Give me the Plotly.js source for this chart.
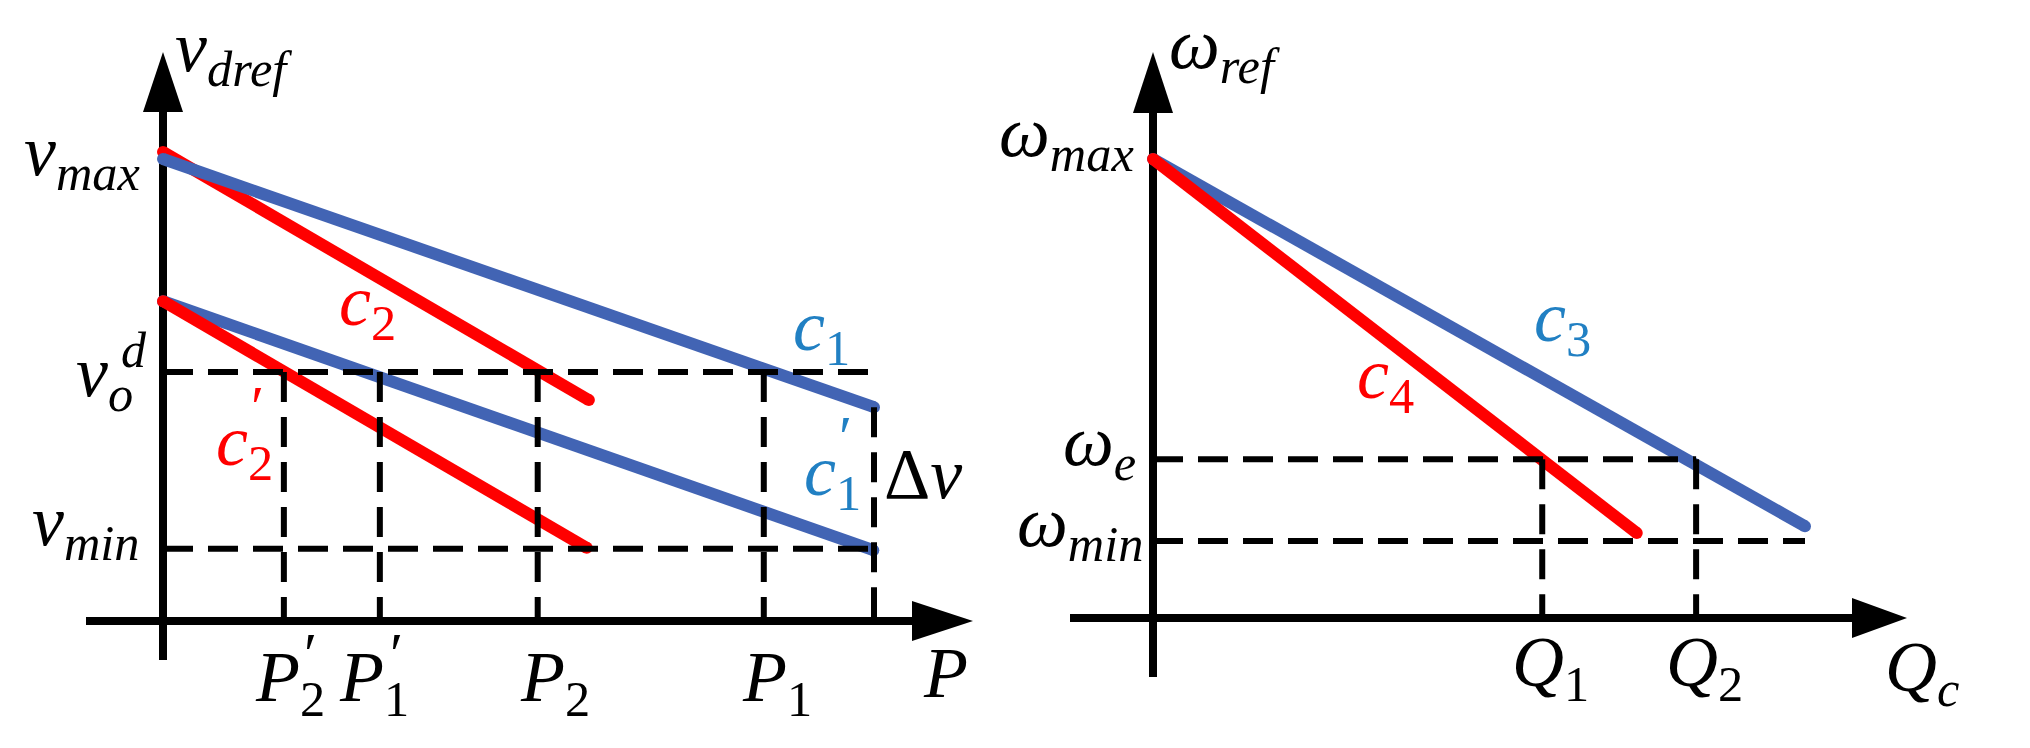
<!DOCTYPE html>
<html><head><meta charset="utf-8">
<script src="https://cdn.plot.ly/plotly-3.0.1.min.js"></script>
<style>html,body{margin:0;padding:0;background:#fff;overflow:hidden}</style>
</head><body><div id="chart" style="width:2030px;height:748px"></div>
<script>
// ================= DATA =================
// Left diagram: P on the horizontal axis, v_dref on the vertical axis
const pTickValues = [1.70, 3.05, 5.27, 8.45];          // P2', P1', P2, P1
const vLevelValues = [10.0, 5.31, 1.54];               // v_max, v_o^d, v_min
const pRight = 10.0;                                   // P where c1 and c1' end
const c1P  = [0, 10.0]; const c1V  = [9.85, 4.56];
const c2P  = [0, 5.99]; const c2V  = [10.0, 4.71];
const c1pP = [0, 9.99]; const c1pV = [6.82, 1.51];
const c2pP = [0, 5.96]; const c2pV = [6.82, 1.56];
// Right diagram: Q_c on the horizontal axis, omega_ref on the vertical axis
const qTickValues = [5.97, 8.33];                      // Q1, Q2
const wLevelValues = [10.0, 3.46, 1.68];               // w_max, w_e, w_min
const c3Q = [0, 10.0]; const c3W = [10.0, 2.0];
const c4Q = [0, 7.42]; const c4W = [10.0, 1.85];

// ================= LAYOUT / STYLE =================
const W = 2030, H = 748;
const FR = {
  L: {ox:163,  oy:621, sx:71.1, sy:46.9},
  R: {ox:1153, oy:618, sx:65.2, sy:45.9}
};
const AX = {
  L: {xFrom:86,   xBase:912,  xTip:973,  yFrom:660, yBase:112, yTip:52, half:20},
  R: {xFrom:1070, xBase:1852, xTip:1907, yFrom:677, yBase:113, yTip:52, half:20}
};
const BLUE = '#4264B4', RED = '#FF0000', LBLUE = '#2180C3', BLACK = '#000000';
const FONT = 'Liberation Serif';
const dx = (f, px) => (px - f.ox) / f.sx;
const dy = (f, py) => (f.oy - py) / f.sy;

const traces = [];
function addAxes(key, xa, ya) {
  const f = FR[key], g = AX[key];
  const base = {xaxis:xa, yaxis:ya, mode:'lines', hoverinfo:'skip', showlegend:false};
  traces.push(Object.assign({}, base, {x:[dx(f,g.xFrom), dx(f,g.xBase+2)], y:[0,0], line:{color:BLACK, width:8}}));
  traces.push(Object.assign({}, base, {x:[0,0], y:[dy(f,g.yFrom), dy(f,g.yBase-2)], line:{color:BLACK, width:8}}));
  traces.push(Object.assign({}, base, {x:[dx(f,g.xBase), dx(f,g.xTip), dx(f,g.xBase), dx(f,g.xBase)],
     y:[g.half/f.sy, 0, -g.half/f.sy, g.half/f.sy], fill:'toself', fillcolor:BLACK, line:{width:0, color:BLACK}}));
  traces.push(Object.assign({}, base, {x:[-g.half/f.sx, 0, g.half/f.sx, -g.half/f.sx],
     y:[dy(f,g.yBase), dy(f,g.yTip), dy(f,g.yBase), dy(f,g.yBase)], fill:'toself', fillcolor:BLACK, line:{width:0, color:BLACK}}));
}
function addCurve(x, y, color, xa, ya) {
  traces.push({x, y, xaxis:xa, yaxis:ya, mode:'lines+markers', hoverinfo:'skip', showlegend:false,
    line:{color, width:12}, marker:{color, size:12, line:{width:0}}});
}
function addDash(x, y, xa, ya) {
  traces.push({x, y, xaxis:xa, yaxis:ya, mode:'lines', hoverinfo:'skip', showlegend:false,
    line:{color:BLACK, width:6, dash:'30px,15px'}});
}

// ---- left diagram ----
addAxes('L', 'x', 'y');
addCurve(c2P, c2V, RED, 'x', 'y');
addCurve(c1P, c1V, BLUE, 'x', 'y');
addCurve(c1pP, c1pV, BLUE, 'x', 'y');
addCurve(c2pP, c2pV, RED, 'x', 'y');
addDash([0, pRight], [vLevelValues[1], vLevelValues[1]], 'x', 'y');
addDash([0, pRight], [vLevelValues[2], vLevelValues[2]], 'x', 'y');
pTickValues.forEach(p => addDash([p, p], [vLevelValues[1], 0], 'x', 'y'));
addDash([pRight, pRight], [c1V[1], 0], 'x', 'y');

// ---- right diagram ----
addAxes('R', 'x2', 'y2');
addCurve(c3Q, c3W, BLUE, 'x2', 'y2');
addCurve(c4Q, c4W, RED, 'x2', 'y2');
addDash([0, qTickValues[1]], [wLevelValues[1], wLevelValues[1]], 'x2', 'y2');
addDash([0, c3Q[1]], [wLevelValues[2], wLevelValues[2]], 'x2', 'y2');
qTickValues.forEach(q => addDash([q, q], [wLevelValues[1], 0], 'x2', 'y2'));

// ---- text ----
const anns = [];
function mkFont(size, color) { return {family:FONT, size:size, color:color}; }
function addAnn(xr, yr, x, y, text, o) {
  const a = {xref:xr, yref:yr, x:x, y:y, text:text, showarrow:false,
    xanchor:'center', yanchor:'middle', font:mkFont(72, BLACK)};
  Object.keys(o || {}).forEach(k => { a[k] = o[k]; });
  anns.push(a);
}
function addFree(key, px, py, text, o) {
  const f = FR[key]; const xr = key === 'L' ? 'x' : 'x2', yr = key === 'L' ? 'y' : 'y2';
  addAnn(xr, yr, dx(f, px), dy(f, py), text, o);
}
const PR = '′';
// left: axis names
addFree('L', 173, 52, '<i>v</i><sub><i>dref</i></sub>', {xanchor:'left'});
addFree('L', 945, 673, '<i>P</i>');
// left: level labels (y from the level values)
addAnn('x','y', 0, vLevelValues[0], '<i>v</i><sub><i>max</i></sub>', {xanchor:'right', xshift:-21, yshift:-4});
addAnn('x','y', 0, vLevelValues[1], '<i>v</i><sub><i>o</i></sub>', {xanchor:'right', xshift:-28, yshift:-5});
addAnn('x','y', 0, vLevelValues[1], '<i>d</i>', {xshift:134-163, yshift:372-350, font:mkFont(50, BLACK)});
addAnn('x','y', 0, vLevelValues[2], '<i>v</i><sub><i>min</i></sub>', {xanchor:'right', xshift:-21, yshift:23});
// left: P tick labels (x from the tick values)
const pTickText = ['<i>P</i><sub>2</sub>', '<i>P</i><sub>1</sub>', '<i>P</i><sub>2</sub>', '<i>P</i><sub>1</sub>'];
const pTickShift = [6, -6, 17, 13];
pTickValues.forEach((p, i) => addAnn('x','y', p, 0, pTickText[i], {xshift:pTickShift[i], yshift:-61}));
addAnn('x','y', pTickValues[0], 0, PR, {xshift:311-284, yshift:621-654, font:mkFont(60, BLACK)});
addAnn('x','y', pTickValues[1], 0, PR, {xshift:397-380, yshift:621-654, font:mkFont(60, BLACK)});
// left: curve names
addFree('L', 367, 306, '<i>c</i><sub>2</sub>', {font:mkFont(72, RED)});
addFree('L', 244, 446, '<i>c</i><sub>2</sub>', {font:mkFont(72, RED)});
addFree('L', 257, 407, PR, {font:mkFont(60, RED)});
addFree('L', 821, 331, '<i>c</i><sub>1</sub>', {font:mkFont(72, LBLUE)});
addFree('L', 832, 476, '<i>c</i><sub>1</sub>', {font:mkFont(72, LBLUE)});
addFree('L', 845, 437, PR, {font:mkFont(60, LBLUE)});
addFree('L', 923, 474, 'Δ<i>v</i>');

// right: axis names and labels
addFree('R', 1167, 49, '<i>ω</i><sub><i>ref</i></sub>', {xanchor:'left'});
addFree('R', 1922, 672, '<i>Q</i><sub><i>c</i></sub>');
addAnn('x2','y2', 0, wLevelValues[0], '<i>ω</i><sub><i>max</i></sub>', {xanchor:'right', xshift:-17, yshift:22});
addAnn('x2','y2', 0, wLevelValues[1], '<i>ω</i><sub><i>e</i></sub>', {xanchor:'right', xshift:-15, yshift:13});
addAnn('x2','y2', 0, wLevelValues[2], '<i>ω</i><sub><i>min</i></sub>', {xanchor:'right', xshift:-8, yshift:14});
const qTickText = ['<i>Q</i><sub>1</sub>', '<i>Q</i><sub>2</sub>'];
qTickValues.forEach((q, i) => addAnn('x2','y2', q, 0, qTickText[i], {xshift:8, yshift:-49}));
addFree('R', 1562, 322, '<i>c</i><sub>3</sub>', {font:mkFont(72, LBLUE)});
addFree('R', 1385, 379, '<i>c</i><sub>4</sub>', {font:mkFont(72, RED)});

const layout = {
  width:W, height:H, margin:{l:0, r:0, t:0, b:0, pad:0},
  paper_bgcolor:'#ffffff', plot_bgcolor:'rgba(0,0,0,0)', showlegend:false, hovermode:false,
  font:{family:FONT, size:72, color:BLACK},
  xaxis: {visible:false, fixedrange:true, domain:[0, 1000/W], range:[dx(FR.L,0), dx(FR.L,1000)], anchor:'y'},
  yaxis: {visible:false, fixedrange:true, domain:[0,1], range:[dy(FR.L,H), dy(FR.L,0)], anchor:'x'},
  xaxis2: {visible:false, fixedrange:true, domain:[1000/W, 1], range:[dx(FR.R,1000), dx(FR.R,2030)], anchor:'y2'},
  yaxis2: {visible:false, fixedrange:true, domain:[0,1], range:[dy(FR.R,H), dy(FR.R,0)], anchor:'x2'},
  annotations: anns
};
Plotly.newPlot('chart', traces, layout, {displayModeBar:false, staticPlot:true}).then(gd => {
  gd.querySelectorAll('.annotation-text').forEach(el => { el.style.fontFamily = "'Liberation Serif', serif"; });
});
</script></body></html>
